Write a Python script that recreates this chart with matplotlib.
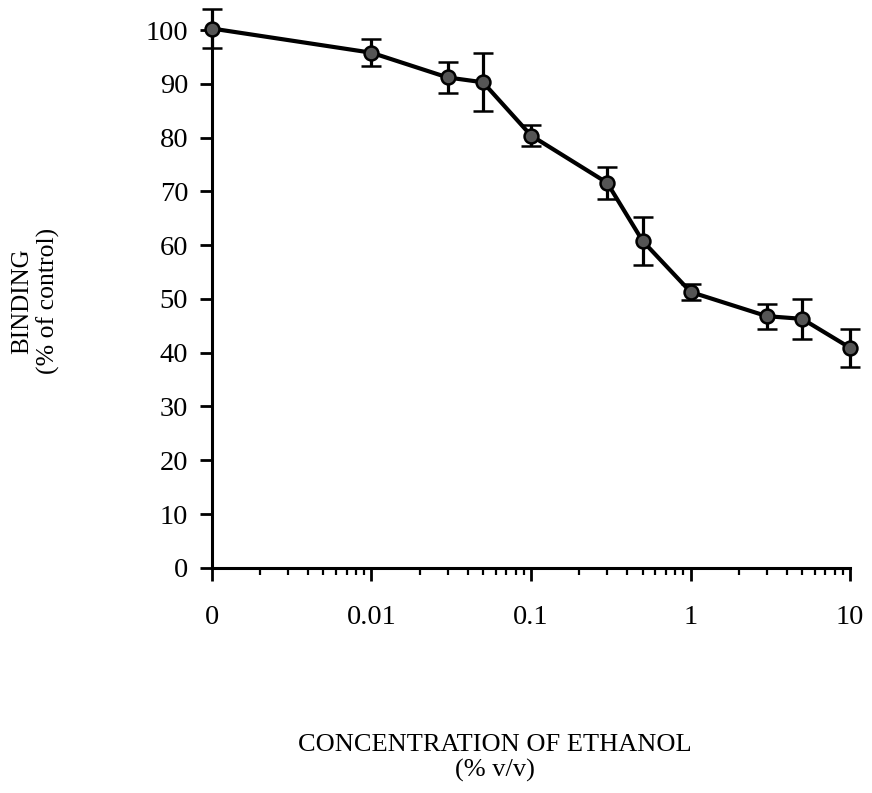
import matplotlib
matplotlib.use("Agg")
import matplotlib.pyplot as plt
import numpy as np
from matplotlib.ticker import LogLocator, FixedLocator, FixedFormatter, NullFormatter

plt.rcParams['font.family'] = ['Liberation Serif', 'DejaVu Serif']

# Data
concentration = [0, 0.01, 0.03, 0.05, 0.1, 0.3, 0.5, 1, 3, 5, 10]
binding = [100.3, 95.8, 91.2, 90.3, 80.4, 71.6, 60.8, 51.3, 46.8, 46.3, 40.9]
sem = [3.7, 2.5, 2.9, 5.4, 2.0, 3.0, 4.4, 1.5, 2.3, 3.7, 3.6]
x_tick_values = [0.001, 0.01, 0.1, 1, 10]
x_tick_labels = ["0", "0.01", "0.1", "1", "10"]
y_ticks = list(range(0, 101, 10))

ZERO_POS = 0.001  # position used for the zero-concentration point on the log axis
xpos = [ZERO_POS if c == 0 else c for c in concentration]

fig = plt.figure(figsize=(8.72, 7.93), dpi=100)
ax = fig.add_axes([0.243, 0.284, 0.732, 0.678])

ax.errorbar(xpos, binding, yerr=sem, color='black', lw=3.0, ecolor='black',
            elinewidth=2.3, capsize=7, capthick=2.3, marker='o', markersize=10,
            markerfacecolor='#555555', markeredgecolor='black', markeredgewidth=1.8,
            clip_on=False, zorder=3)

ax.set_xscale('log')
ax.set_xlim(0.001, 10)
ax.set_ylim(0, 100)

ax.xaxis.set_major_locator(FixedLocator(x_tick_values))
ax.xaxis.set_major_formatter(FixedFormatter(x_tick_labels))
ax.xaxis.set_minor_locator(LogLocator(base=10, subs=np.arange(2, 10)))
ax.xaxis.set_minor_formatter(NullFormatter())
ax.set_yticks(y_ticks)

for s in ['top', 'right']:
    ax.spines[s].set_visible(False)
for s in ['left', 'bottom']:
    ax.spines[s].set_linewidth(2.2)

ax.tick_params(axis='both', which='major', direction='out', length=9, width=2.0,
               labelsize=20.5, pad=8)
ax.tick_params(axis='x', which='minor', direction='out', length=5, width=1.6)
ax.tick_params(axis='x', which='major', pad=18)

fig.text(0.568, 0.061, "CONCENTRATION OF ETHANOL", ha='center', va='center', fontsize=19)
fig.text(0.568, 0.028, "(% v/v)", ha='center', va='center', fontsize=19)
fig.text(0.025, 0.62, "BINDING", rotation=90, ha='center', va='center', fontsize=18)
fig.text(0.055, 0.62, "(% of control)", rotation=90, ha='center', va='center', fontsize=18.5)

fig.savefig("out.png", dpi=100)
